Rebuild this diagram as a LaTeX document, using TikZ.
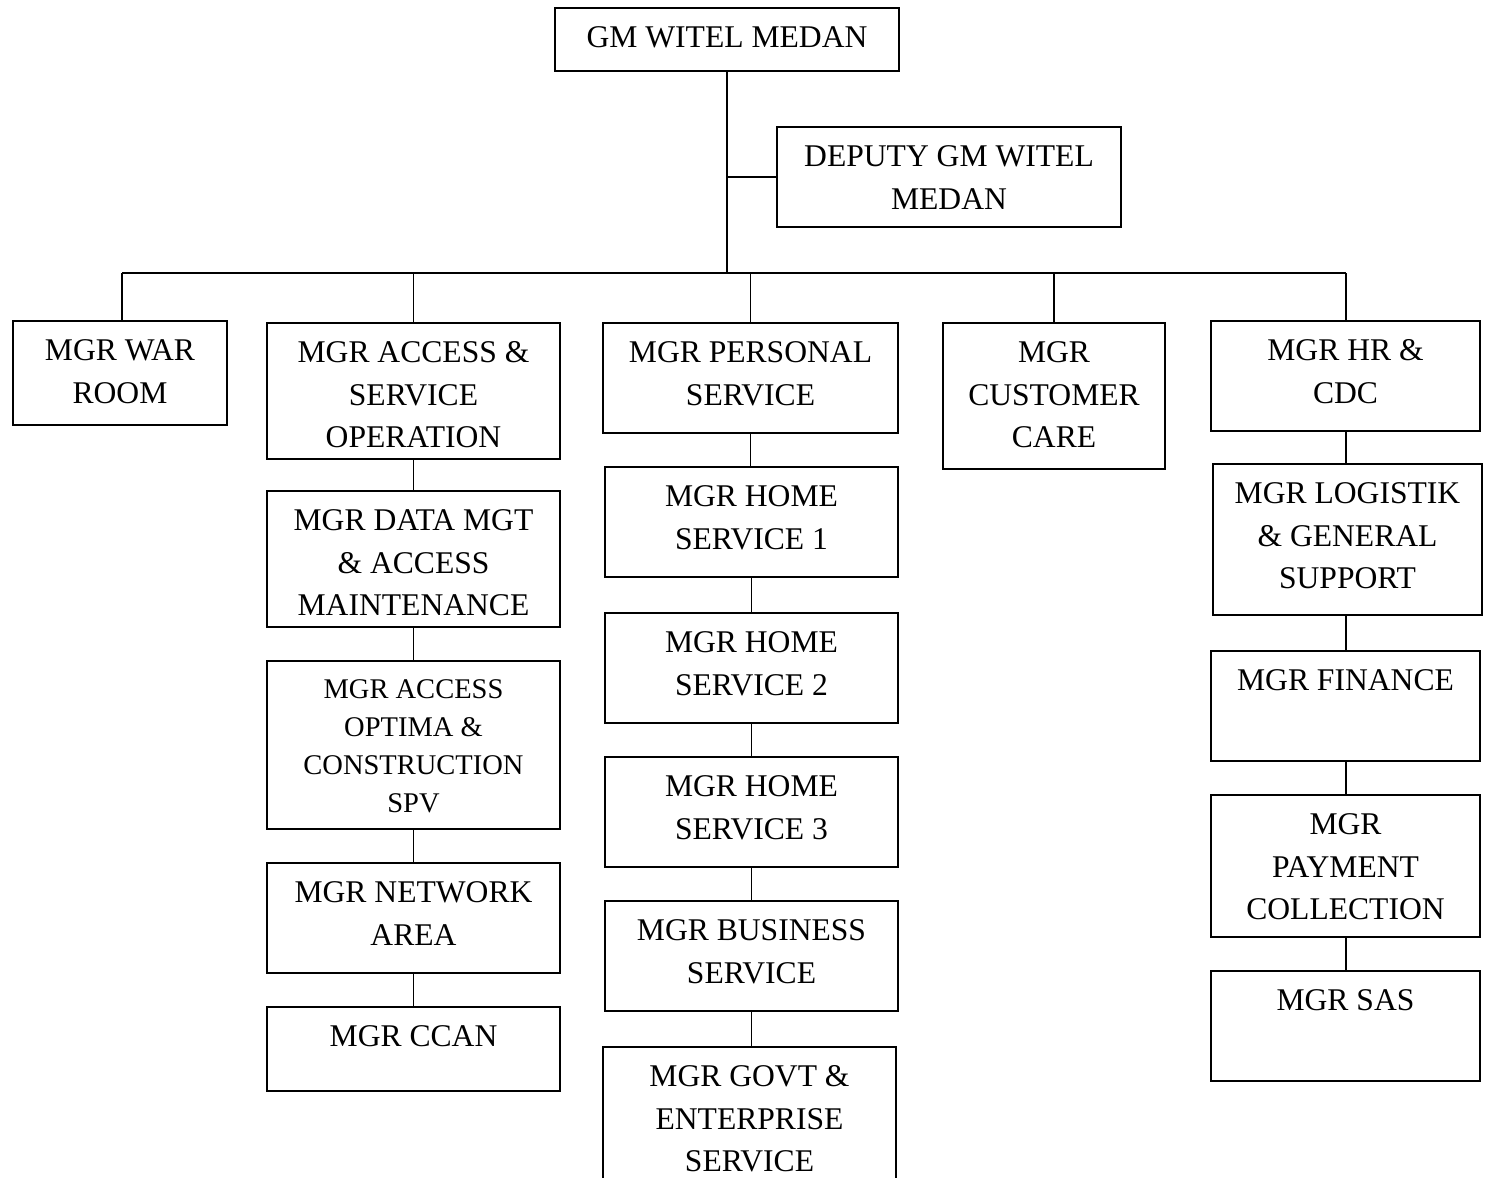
\documentclass[tikz,border=0pt]{standalone}
\usepackage{fontspec}
\setmainfont{Liberation Serif}
\tikzset{
  bx/.style={draw, line width=1pt, rectangle, anchor=north west, inner sep=0pt},
  bxt/.style={anchor=north, inner sep=0pt, align=center, font=\fontsize{15.8}{21.2}\selectfont},
  small/.style={font=\fontsize{14.25}{19}\selectfont},
  link/.style={line width=0.8pt},
  busline/.style={line width=1.4pt},
}
% name, x, y, width, height, text (pixel units of the reference)
\newcommand\orgbox[7][]{%
  \node[bx, minimum width=#5*0.5pt, minimum height=#6*0.5pt] (#2) at (#3,#4) {};
  \node[bxt,#1] (#2t) at ([yshift=-9.75pt]#2.north) {#7};
}
\begin{document}
\begin{tikzpicture}[x=0.5pt,y=-0.5pt]
\useasboundingbox (0,0) rectangle (1485,1178);
\orgbox{gm}{554}{7}{344}{63}{GM WITEL MEDAN}
\orgbox{dep}{776}{126}{344}{100}{DEPUTY GM WITEL\\MEDAN}
\orgbox{war}{12}{320}{214}{104}{MGR WAR\\ROOM}
\orgbox{acc}{266}{322}{293}{136}{MGR ACCESS \&\\SERVICE\\OPERATION}
\orgbox{data}{266}{490}{293}{136}{MGR DATA MGT\\\& ACCESS\\MAINTENANCE}
\orgbox[small]{opt}{266}{660}{293}{168}{MGR ACCESS\\OPTIMA \&\\CONSTRUCTION\\SPV}
\orgbox{net}{266}{862}{293}{110}{MGR NETWORK\\AREA}
\orgbox{ccan}{266}{1006}{293}{84}{MGR CCAN}
\orgbox{pers}{602}{322}{295}{110}{MGR PERSONAL\\SERVICE}
\orgbox{hsa}{604}{466}{293}{110}{MGR HOME\\SERVICE 1}
\orgbox{hsb}{604}{612}{293}{110}{MGR HOME\\SERVICE 2}
\orgbox{hsc}{604}{756}{293}{110}{MGR HOME\\SERVICE 3}
\orgbox{bsvc}{604}{900}{293}{110}{MGR BUSINESS\\SERVICE}
\orgbox{govt}{602}{1046}{293}{140}{MGR GOVT \&\\ENTERPRISE\\SERVICE}
\orgbox{cc}{942}{322}{222}{146}{MGR\\CUSTOMER\\CARE}
\orgbox{hr}{1210}{320}{269}{110}{MGR HR \&\\CDC}
\orgbox{log}{1212}{463}{269}{151}{MGR LOGISTIK\\\& GENERAL\\SUPPORT}
\orgbox{fin}{1210}{650}{269}{110}{MGR FINANCE}
\orgbox{pay}{1210}{794}{269}{142}{MGR\\PAYMENT\\COLLECTION}
\orgbox{sas}{1210}{970}{269}{110}{MGR SAS}
% bus
\coordinate (busL) at (122,273);
\coordinate (busR) at (1346,273);
\draw[busline] (busL) -- (busR);
\draw[link] (gm.south) -- (gm.south |- busL);
\draw[link] (dep.west) -- (dep.west -| gm.south);
\draw[link] (busL) -- (busL |- war.north);
\draw[link] (acc.north) -- (acc.north |- busL);
\draw[link] (pers.north) -- (pers.north |- busL);
\draw[link] (cc.north) -- (cc.north |- busL);
\draw[link] (busR) -- (busR |- hr.north);
% columns
\draw[link] (acc.south) -- (acc.south |- data.north);
\draw[link] (data.south) -- (data.south |- opt.north);
\draw[link] (opt.south) -- (opt.south |- net.north);
\draw[link] (net.south) -- (net.south |- ccan.north);
\draw[link] (pers.south) -- (pers.south |- hsa.north);
\draw[link] (hsa.south) -- (hsa.south |- hsb.north);
\draw[link] (hsb.south) -- (hsb.south |- hsc.north);
\draw[link] (hsc.south) -- (hsc.south |- bsvc.north);
\draw[link] (bsvc.south) -- (bsvc.south |- govt.north);
\draw[link] (busR |- hr.south) -- (busR |- log.north);
\draw[link] (busR |- log.south) -- (busR |- fin.north);
\draw[link] (busR |- fin.south) -- (busR |- pay.north);
\draw[link] (busR |- pay.south) -- (busR |- sas.north);
\end{tikzpicture}
\end{document}
